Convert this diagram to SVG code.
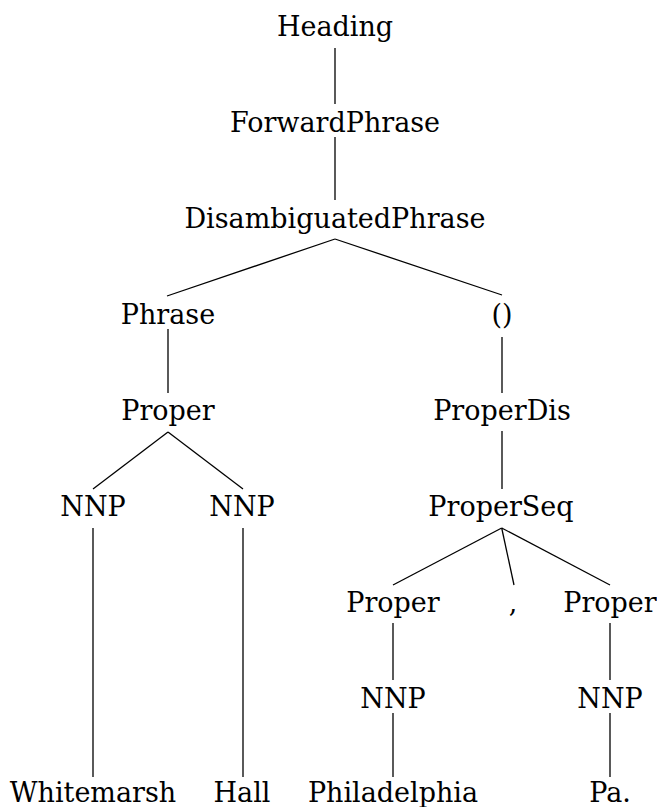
<svg xmlns="http://www.w3.org/2000/svg" width="657" height="807" viewBox="0 0 657 807">
<style>
.n text{font-family:'DejaVu Serif','Noto Serif','Liberation Serif',serif;font-size:27px;fill:#000;text-anchor:middle}
.e line{stroke:#000;stroke-width:1.3;stroke-linecap:butt}
</style>
<rect width="657" height="807" fill="#fff"/>
<g id="connectors" class="e">
<line x1="335" y1="48" x2="335" y2="104"/>
<line x1="335" y1="137" x2="335" y2="200"/>
<line x1="335" y1="239" x2="167" y2="296"/>
<line x1="335" y1="239" x2="502" y2="295"/>
<line x1="168" y1="329" x2="168" y2="393"/>
<line x1="502" y1="337" x2="502" y2="393"/>
<line x1="168" y1="432" x2="93" y2="489"/>
<line x1="168" y1="432" x2="243" y2="489"/>
<line x1="502" y1="431" x2="502" y2="489"/>
<line x1="93" y1="528" x2="93" y2="777"/>
<line x1="243" y1="528" x2="243" y2="777"/>
<line x1="501.7" y1="528" x2="393" y2="585"/>
<line x1="501.7" y1="528" x2="514" y2="585"/>
<line x1="501.7" y1="528" x2="610" y2="585"/>
<line x1="393" y1="623" x2="393" y2="680"/>
<line x1="610" y1="623" x2="610" y2="680"/>
<line x1="393" y1="713" x2="393" y2="777"/>
<line x1="610" y1="713" x2="610" y2="777"/>
</g>
<g id="heading" class="n"><text x="335" y="36">Heading</text></g>
<g id="forwardphrase" class="n"><text x="335" y="132">ForwardPhrase</text></g>
<g id="disambiguatedphrase" class="n"><text x="335" y="228">DisambiguatedPhrase</text></g>
<g id="phrase" class="n"><text x="168" y="324">Phrase</text></g>
<g id="parens" class="n"><text x="502" y="324">()</text></g>
<g id="proper1" class="n"><text x="168" y="420">Proper</text></g>
<g id="properdis" class="n"><text x="502" y="420">ProperDis</text></g>
<g id="nnp1" class="n"><text x="93" y="516">NNP</text></g>
<g id="nnp2" class="n"><text x="242" y="516">NNP</text></g>
<g id="properseq" class="n"><text x="501" y="516">ProperSeq</text></g>
<g id="proper2" class="n"><text x="393" y="612">Proper</text></g>
<g id="comma" class="n"><text x="513" y="612">,</text></g>
<g id="proper3" class="n"><text x="610" y="612">Proper</text></g>
<g id="nnp3" class="n"><text x="393" y="708">NNP</text></g>
<g id="nnp4" class="n"><text x="610" y="708">NNP</text></g>
<g id="whitemarsh" class="n"><text x="93" y="802">Whitemarsh</text></g>
<g id="hall" class="n"><text x="242" y="802">Hall</text></g>
<g id="philadelphia" class="n"><text x="393" y="802">Philadelphia</text></g>
<g id="pa" class="n"><text x="610" y="802">Pa.</text></g>
</svg>
